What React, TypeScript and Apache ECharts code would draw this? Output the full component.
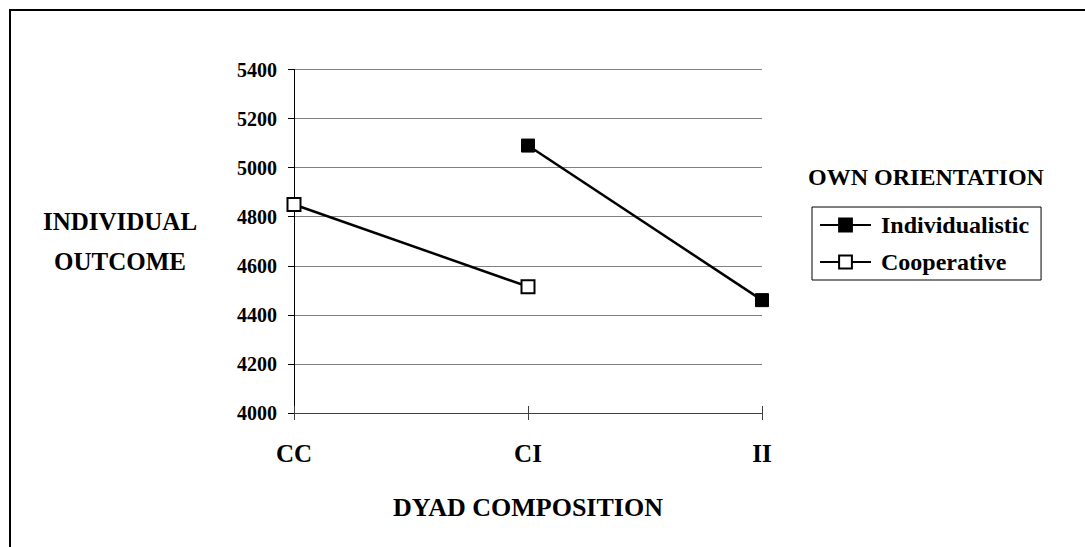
import React, { useEffect, useRef } from "react";
import * as echarts from "echarts";

const categories = ["CC", "CI", "II"];
const individualistic = [null, 5090, 4460];
const cooperative = [4850, 4515, null];
const seriesNames = ["Individualistic", "Cooperative"];

const FONT = "'Liberation Serif', 'Times New Roman', serif";

export default function App() {
  const ref = useRef<HTMLDivElement>(null);
  useEffect(() => {
    if (!ref.current) return;
    const chart = echarts.init(ref.current, null, { renderer: "svg" });
    chart.setOption({
      animation: false,
      backgroundColor: "#fff",
      textStyle: { fontFamily: FONT, fontWeight: "bold", color: "#000" },
      grid: { left: 294, right: 323, top: 69.5, bottom: 134, containLabel: false },
      xAxis: [
        {
          type: "category",
          data: categories,
          boundaryGap: false,
          position: "bottom",
          axisLine: { lineStyle: { color: "#404040", width: 1 } },
          axisTick: { show: true, length: 7, lineStyle: { color: "#404040" } },
          axisLabel: { fontFamily: FONT, fontWeight: "bold", fontSize: 25, color: "#000", margin: 28 },
          name: "DYAD COMPOSITION",
          nameLocation: "middle",
          nameGap: 94,
          nameTextStyle: { fontFamily: FONT, fontWeight: "bold", fontSize: 26, color: "#000", verticalAlign: "middle" },
          splitLine: { show: false },
        },
        {
          type: "category",
          data: categories,
          boundaryGap: false,
          position: "bottom",
          axisLine: { show: false },
          axisTick: { show: true, inside: true, length: 7, lineStyle: { color: "#404040" } },
          axisLabel: { show: false },
          splitLine: { show: false },
        },
      ],
      yAxis: {
        type: "value",
        min: 4000,
        max: 5400,
        interval: 200,
        axisLine: { show: true, lineStyle: { color: "#000", width: 1 } },
        axisTick: { show: true, length: 6, lineStyle: { color: "#000" } },
        axisLabel: {
          fontFamily: FONT,
          fontWeight: "bold",
          fontSize: 20,
          color: "#000",
          margin: 17,
          formatter: (v: number) => String(v),
        },
        splitLine: { show: true, lineStyle: { color: "#808080", width: 1 } },
        name: "INDIVIDUAL\nOUTCOME",
        nameLocation: "middle",
        nameRotate: 0,
        nameGap: 174,
        nameTextStyle: {
          fontFamily: FONT,
          fontWeight: "bold",
          fontSize: 25,
          color: "#000",
          align: "center",
          verticalAlign: "middle",
          lineHeight: 40,
          padding: [0, 0, 6, 0],
        },
      },
      legend: {
        data: seriesNames,
        orient: "vertical",
        left: 812,
        top: 207,
        selectedMode: false,
        itemWidth: 51,
        itemHeight: 16,
        itemGap: 10,
        padding: [4.5, 12, 4.5, 7],
        borderColor: "#000",
        borderWidth: 1,
        textStyle: { fontFamily: FONT, fontWeight: "bold", fontSize: 24, color: "#000", lineHeight: 27, padding: [0, 0, 0, 5] },
      },
      graphic: [
        {
          type: "rect",
          shape: { x: 10, y: 10, width: 1200, height: 1000 },
          style: { fill: "none", stroke: "#000", lineWidth: 2 },
          silent: true,
        },
        {
          type: "text",
          x: 926,
          y: 177,
          style: {
            text: "OWN ORIENTATION",
            fontFamily: FONT,
            fontWeight: "bold",
            fontSize: 24,
            fill: "#000",
            align: "center",
            verticalAlign: "middle",
          },
        },
      ],
      series: [
        {
          name: seriesNames[0],
          type: "line",
          data: individualistic,
          xAxisIndex: 0,
          symbol: "rect",
          symbolSize: 13,
          showAllSymbol: true,
          connectNulls: false,
          lineStyle: { color: "#000", width: 2.5 },
          itemStyle: { color: "#000", borderColor: "#000", borderWidth: 1 },
        },
        {
          name: seriesNames[1],
          type: "line",
          data: cooperative,
          xAxisIndex: 0,
          symbol: "rect",
          symbolSize: 13,
          showAllSymbol: true,
          connectNulls: false,
          lineStyle: { color: "#000", width: 2.5 },
          itemStyle: { color: "#fff", borderColor: "#000", borderWidth: 2 },
        },
      ],
    });
    return () => chart.dispose();
  }, []);
  return (
    <div
      ref={ref}
      style={{ position: "fixed", left: 0, top: 0, width: 1085, height: 547, background: "#fff" }}
    />
  );
}
